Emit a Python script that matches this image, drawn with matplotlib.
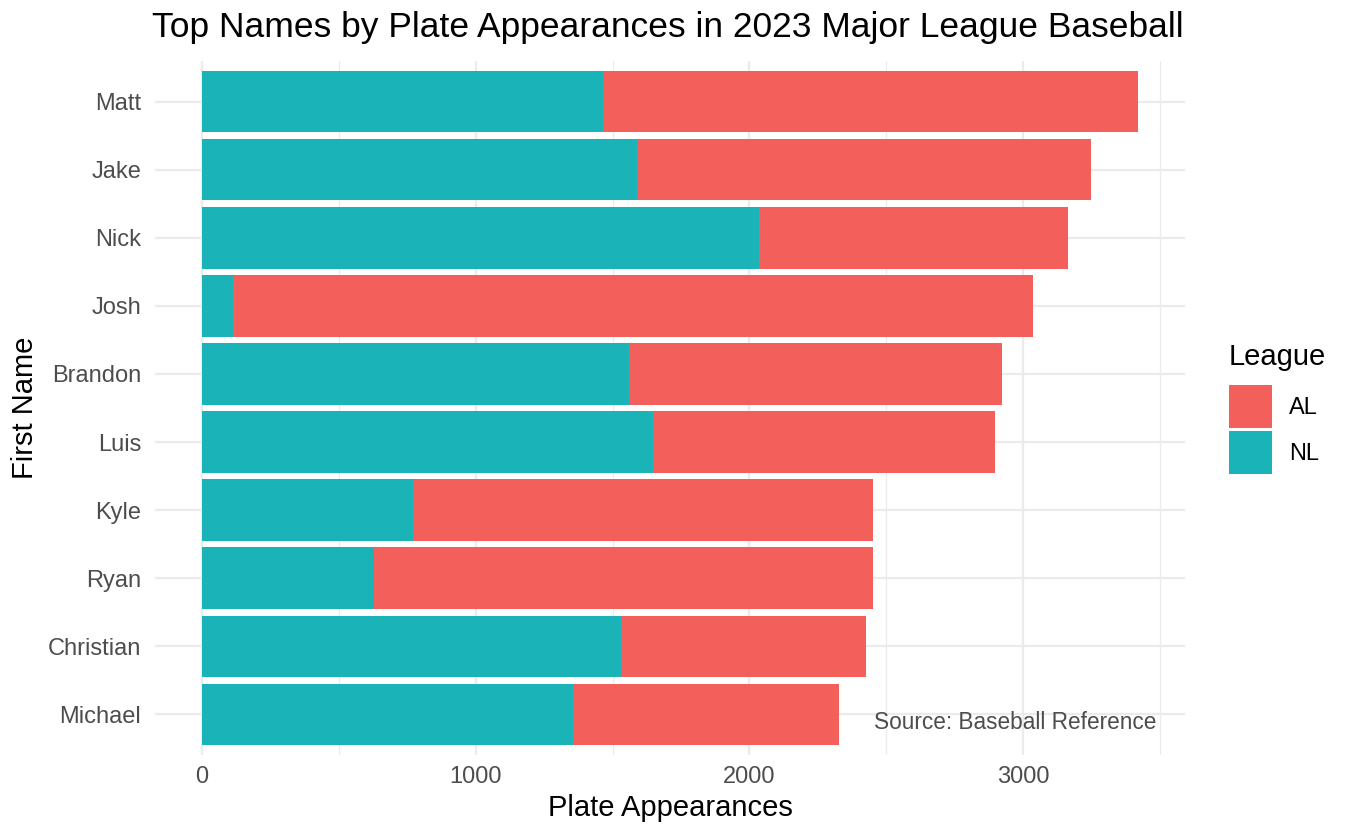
import matplotlib
matplotlib.use("Agg")
import matplotlib.pyplot as plt
from matplotlib.patches import Patch
from matplotlib.ticker import MultipleLocator

names = ["Matt", "Jake", "Nick", "Josh", "Brandon", "Luis", "Kyle", "Ryan", "Christian", "Michael"]
nl_pa = [1465, 1589, 2035, 113, 1560, 1648, 771, 628, 1531, 1355]
total_pa = [3420, 3248, 3164, 3036, 2923, 2897, 2452, 2452, 2426, 2327]
al_pa = [t - n for t, n in zip(total_pa, nl_pa)]

AL_COLOR = "#F35F5B"
NL_COLOR = "#1AB3B7"
TXT = "#4D4D4D"

plt.rcParams["font.family"] = ["Liberation Sans", "DejaVu Sans"]

fig = plt.figure(figsize=(13.56, 8.38), dpi=100)
ax = fig.add_axes([155/1356, 1-755/838, (1185-155)/1356, (755-61)/838])

ypos = list(range(len(names)))
ax.barh(ypos, nl_pa, height=0.9, color=NL_COLOR, zorder=3)
ax.barh(ypos, al_pa, left=nl_pa, height=0.9, color=AL_COLOR, zorder=3)

ax.set_ylim(len(names) - 1 + 0.6, -0.6)
xmax = max(total_pa)
ax.set_xlim(-0.05 * xmax, xmax * 1.05)
ax.set_yticks(ypos)
ax.set_yticklabels(names)
ax.xaxis.set_major_locator(MultipleLocator(1000))
ax.xaxis.set_minor_locator(MultipleLocator(500))
ax.set_xticks([0, 1000, 2000, 3000])

ax.grid(True, which="major", color="#EBEBEB", linewidth=1.6, zorder=0)
ax.grid(True, which="minor", axis="x", color="#EBEBEB", linewidth=0.9, zorder=0)
for s in ax.spines.values():
    s.set_visible(False)
ax.tick_params(axis="both", which="both", length=0, labelsize=17, labelcolor=TXT)
ax.tick_params(axis="y", pad=10)
ax.tick_params(axis="x", pad=8)

ax.set_xlabel("Plate Appearances", fontsize=21, labelpad=4)
ax.set_ylabel("First Name", fontsize=21, labelpad=6)
fig.text(152/1356, 1-28/838, "Top Names by Plate Appearances in 2023 Major League Baseball",
         fontsize=25.5, ha="left", va="center")

ax.text(2455, len(names) - 1 + 0.12, "Source: Baseball Reference",
        fontsize=16.3, color=TXT, ha="left", va="center", zorder=4)

handles = [Patch(facecolor=AL_COLOR, label="AL"), Patch(facecolor=NL_COLOR, label="NL")]
leg = fig.legend(handles=handles, title="League", loc="upper left",
                 bbox_to_anchor=(1229/1356, 1-343/838), frameon=False,
                 fontsize=17, title_fontsize=21, handlelength=1.82, handleheight=2.43,
                 labelspacing=0.13, handletextpad=0.72, borderaxespad=0, borderpad=0)
leg._legend_box.align = "left"
leg._legend_box.sep = 10

fig.savefig("out.png", dpi=100)
